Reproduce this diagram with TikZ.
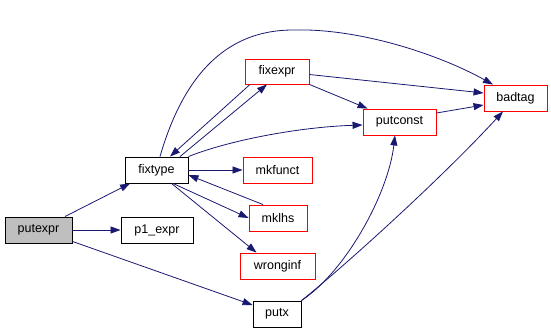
\documentclass[tikz,border=0pt]{standalone}
\usepackage{fontspec}
\setmainfont{Liberation Sans}
\usetikzlibrary{arrows.meta}
\definecolor{edgeblue}{HTML}{191970}
\definecolor{boxgray}{HTML}{BFBFBF}
\tikzset{
  fn/.style={draw=black, line width=0.9pt, rectangle, inner sep=0pt, minimum height=26pt, font=\fontsize{12.5}{14}\selectfont},
  fnred/.style={fn, draw=red},
  edge/.style={draw=edgeblue, line width=0.8pt, -{Triangle[length=10pt,width=7pt]}},
}
\begin{document}
\begin{tikzpicture}[x=1pt,y=-1pt]
\useasboundingbox (0,0) rectangle (551,330);
\node[fn, fill=boxgray, minimum width=67pt] (putexpr) at (38.5,230) {putexpr};
\node[fn, minimum width=72pt] (p1expr) at (157,230) {p1\_expr};
\node[fn, minimum width=63pt] (fixtype) at (156.5,170) {fixtype};
\node[fnred, minimum width=69pt] (mkfunct) at (277.5,170) {mkfunct};
\node[fnred, minimum width=58pt] (mklhs) at (278,218) {mklhs};
\node[fnred, minimum width=75pt] (wronginf) at (277.5,266) {wronginf};
\node[fn, minimum width=48pt] (putx) at (277,314) {putx};
\node[fnred, minimum width=64pt, minimum height=25pt] (fixexpr) at (277,71.5) {fixexpr};
\node[fnred, minimum width=73pt] (putconst) at (399.5,122) {putconst};
\node[fnred, minimum width=63pt] (badtag) at (515.5,98) {badtag};

\draw[edge] (putexpr) -- (fixtype);
\draw[edge] (putexpr) -- (p1expr);
\draw[edge] ([yshift=2pt]putexpr.south east) -- ([yshift=9pt]putx.west);
\draw[edge] (fixtype) -- (mkfunct);
\draw[edge] ([xshift=16.5pt]fixtype.south) -- (mklhs.west);
\draw[edge] ([xshift=-15pt]mklhs.north) -- ([yshift=-5pt]fixtype.east);
\draw[edge] ([xshift=15pt]fixtype.south) -- ([xshift=-21pt]wronginf.north);
\draw[edge] ([xshift=23.5pt]fixtype.north) -- ([xshift=-10pt]fixexpr.south);
\draw[edge] ([xshift=-27pt]fixexpr.south) -- ([xshift=13.5pt]fixtype.north);
\draw[edge] (fixtype.north east) .. controls (230,140) and (300,127) .. ([yshift=-3pt]putconst.west);
\draw[edge] ([xshift=3.5pt]fixtype.north) .. controls (185,70) and (230,30) .. (293,30) .. controls (360,28) and (440,55) .. ([xshift=-22.5pt]badtag.north);
\draw[edge] ([yshift=-3pt]fixexpr.east) -- ([yshift=5pt]badtag.west);
\draw[edge] (fixexpr.south east) -- ([xshift=5pt]putconst.north west);
\draw[edge] ([yshift=9pt]putconst.east) -- ([yshift=-7pt]badtag.west);
\draw[edge] (putx.north east) .. controls (345,272) and (388,195) .. ([xshift=-4.5pt]putconst.south);
\draw[edge] (putx.north east) .. controls (340,270) and (440,180) .. ([xshift=-12.5pt]badtag.south);
\end{tikzpicture}
\end{document}
